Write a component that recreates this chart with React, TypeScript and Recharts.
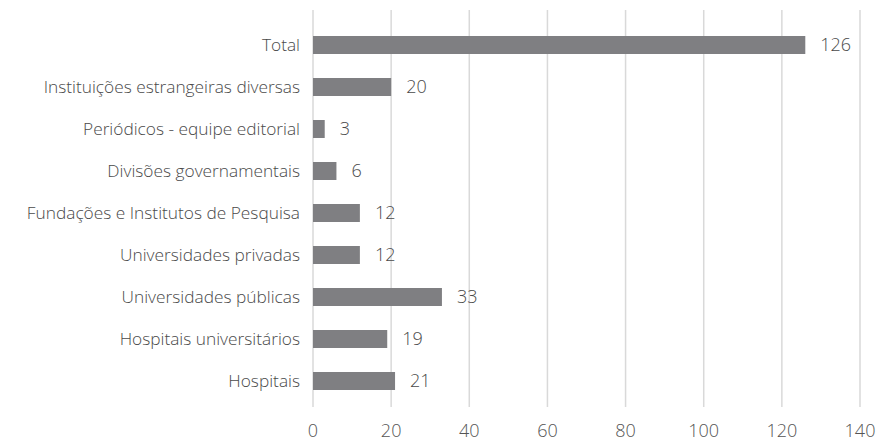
import { Bar, BarChart, CartesianGrid, LabelList, XAxis, YAxis } from 'recharts';

const categories = [
  'Total',
  'Instituições estrangeiras diversas',
  'Periódicos - equipe editorial',
  'Divisões governamentais',
  'Fundações e Institutos de Pesquisa',
  'Universidades privadas',
  'Universidades públicas',
  'Hospitais universitários',
  'Hospitais',
];
const values = [126, 20, 3, 6, 12, 12, 33, 19, 21];
const xTicks = [0, 20, 40, 60, 80, 100, 120, 140];

const data = categories.map((name, i) => ({ name, value: values[i] }));

const font = '"Open Sans", sans-serif';

export default function App() {
  return (
    <div style={{ position: 'absolute', left: 0, top: 0, background: '#fff', fontFamily: font }}>
      <BarChart
        width={878}
        height={442}
        data={data}
        layout="vertical"
        margin={{ top: 10, right: 18, bottom: 0, left: 0 }}
      >
        <CartesianGrid horizontal={false} stroke="#d9d9d9" strokeWidth={1.5} />
        <XAxis
          type="number"
          domain={[0, 140]}
          ticks={xTicks}
          axisLine={false}
          tickLine={false}
          tickMargin={11}
          height={35}
          tick={{ fill: '#555', fontSize: 18, fontFamily: font, fontWeight: 300 }}
        />
        <YAxis
          type="category"
          dataKey="name"
          width={313}
          axisLine={false}
          tickLine={false}
          tickMargin={7}
          padding={{ top: 14, bottom: 5 }}
          tick={{ fill: '#4a4a4a', fontSize: 17.3, fontFamily: font, fontWeight: 300 }}
        />
        <Bar dataKey="value" fill="#7f7f82" barSize={18} isAnimationActive={false}>
          <LabelList
            dataKey="value"
            position="right"
            offset={15}
            fill="#4a4a4a"
            fontSize={18}
            fontFamily={font}
            fontWeight={300}
          />
        </Bar>
      </BarChart>
    </div>
  );
}
